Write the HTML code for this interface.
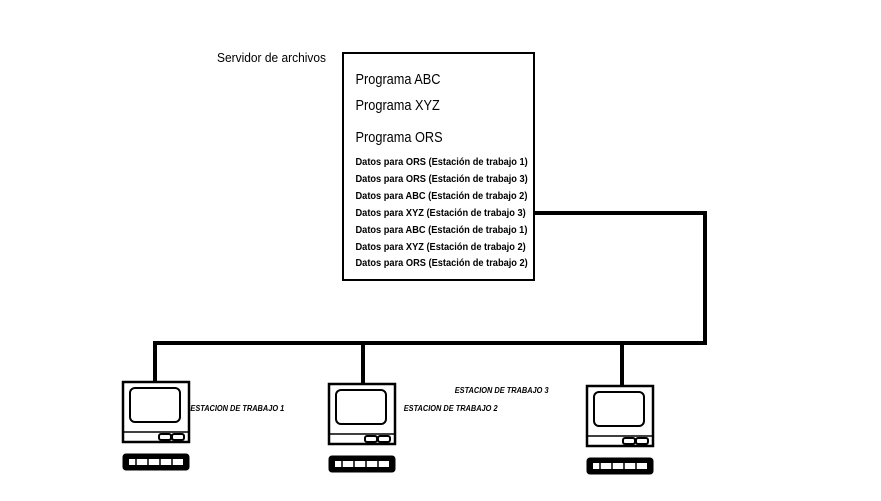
<!DOCTYPE html>
<html><head><style>body{margin:0;background:#fff}svg{display:block}text{font-family:"Liberation Sans",sans-serif;fill:#000}</style></head><body>
<svg width="881" height="501" viewBox="0 0 881 501">
<rect x="343" y="53" width="191" height="227" fill="none" stroke="#000" stroke-width="2"/>
<text x="217" y="62" font-size="13" transform="scale(0.92,1) translate(18.9,0)">Servidor de archivos</text>
<g font-size="14.5" transform="scale(0.88,1)">
<text x="404" y="84">Programa ABC</text>
<text x="404" y="110">Programa XYZ</text>
<text x="404" y="142">Programa ORS</text>
</g>
<g font-size="10.3" font-weight="bold" transform="scale(0.9,1)">
<text x="395" y="165">Datos para ORS (Estación de trabajo 1)</text>
<text x="395" y="182">Datos para ORS (Estación de trabajo 3)</text>
<text x="395" y="199">Datos para ABC (Estación de trabajo 2)</text>
<text x="395" y="216">Datos para XYZ (Estación de trabajo 3)</text>
<text x="395" y="233">Datos para ABC (Estación de trabajo 1)</text>
<text x="395" y="250">Datos para XYZ (Estación de trabajo 2)</text>
<text x="395" y="266">Datos para ORS (Estación de trabajo 2)</text>
</g>
<g stroke="#000" stroke-width="4" fill="none">
<polyline points="534,213 705,213 705,343 153,343"/>
<line x1="155" y1="343" x2="155" y2="382"/>
<line x1="363" y1="343" x2="363" y2="384"/>
<line x1="622" y1="343" x2="622" y2="386"/>
</g>
<g id="c" stroke="#000" fill="none">
<rect x="123" y="382" width="66" height="60" stroke-width="2.5"/>
<rect x="130" y="388" width="50" height="34" rx="5" stroke-width="2"/>
<line x1="123" y1="432" x2="189" y2="432" stroke-width="1.5"/>
<rect x="159" y="434" width="12" height="6" rx="2" stroke-width="2"/>
<rect x="172" y="434" width="12" height="6" rx="2" stroke-width="2"/>
<rect x="123" y="454" width="66" height="16" rx="3" fill="#000"/>
<rect x="129" y="459" width="54" height="6" fill="#fff" stroke="none"/>
<g stroke-width="1.5"><line x1="136" y1="459" x2="136" y2="466"/><line x1="148" y1="459" x2="148" y2="466"/><line x1="160" y1="459" x2="160" y2="466"/><line x1="172" y1="459" x2="172" y2="466"/></g>
</g>
<use href="#c" x="206" y="2"/>
<use href="#c" x="464" y="4"/>
<g font-size="8.7" font-weight="bold" font-style="italic" transform="scale(0.85,1)">
<text x="224" y="411">ESTACION DE TRABAJO 1</text>
<text x="475" y="411">ESTACION DE TRABAJO 2</text>
<text x="535" y="393">ESTACION DE TRABAJO 3</text>
</g>
</svg>
</body></html>
